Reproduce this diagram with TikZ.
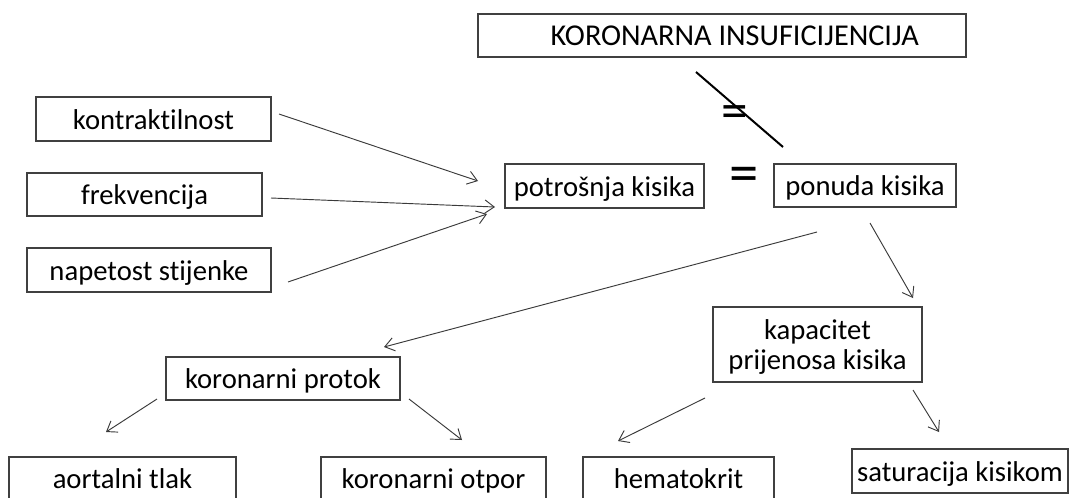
\documentclass[tikz,border=0pt]{standalone}
\usepackage{fontspec}
\setmainfont{Carlito}[Ligatures=NoCommon]
\usetikzlibrary{arrows.meta}
\definecolor{boxline}{HTML}{404040}
\definecolor{arrline}{HTML}{3A3A3A}
\tikzset{
  box/.style={draw=boxline, line width=1.1pt, inner sep=0pt,
    font=\fontsize{21.5}{25}\selectfont, text=black, text height=17pt, text depth=2pt},
  twoline/.style={draw=boxline, line width=1.1pt, inner sep=0pt, align=center,
    font=\fontsize{21.5}{22.5}\selectfont, text=black},
  conn/.style={draw=arrline, line width=0.7pt, -{Straight Barb[length=7pt,width=10pt,line width=0.7pt]}},
  eqsign/.style={inner sep=0pt, font=\fontsize{44}{44}\selectfont}
}
\begin{document}
\begin{tikzpicture}[x=0.75pt,y=-0.75pt]
\clip (0,0) rectangle (1070,497);
\fill[white] (0,0) rectangle (1070,497);
% boxes
\node[box, font=\fontsize{22.7}{26}\selectfont, minimum width={488*0.75pt}, minimum height={43*0.75pt}] (top) at (722,35.5) {\hspace*{19pt}KORONARNA INSUFICIJENCIJA};
\node[box, minimum width={235*0.75pt}, minimum height={44*0.75pt}] (kontr) at (153.5,119) {kontraktilnost};
\node[box, minimum width={235*0.75pt}, minimum height={43*0.75pt}] (frek) at (144.5,194.5) {frekvencija};
\node[box, minimum width={244*0.75pt}, minimum height={44*0.75pt}] (nap) at (149,270) {napetost stijenke};
\node[box, minimum width={199*0.75pt}, minimum height={44*0.75pt}] (potr) at (604.5,186) {potrošnja kisika};
\node[box, minimum width={182*0.75pt}, minimum height={43*0.75pt}] (pon) at (865,185.5) {ponuda kisika};
\node[twoline, minimum width={209*0.75pt}, minimum height={75*0.75pt}, text depth=0pt] (kap) at (817.5,344.5) {kapacitet\\prijenosa kisika};
\node[box, minimum width={234*0.75pt}, minimum height={43*0.75pt}] (prot) at (283,378.5) {koronarni protok};
\node[box, minimum width={227*0.75pt}, minimum height={43*0.75pt}] (aort) at (122.5,478.5) {aortalni tlak};
\node[box, minimum width={225*0.75pt}, minimum height={43*0.75pt}] (otp) at (433.5,478.5) {koronarni otpor};
\node[box, minimum width={191*0.75pt}, minimum height={43*0.75pt}] (hem) at (678.5,478.5) {hematokrit};
\node[box, minimum width={216*0.75pt}, minimum height={44*0.75pt}] (sat) at (960,471) {saturacija kisikom};
% equals signs
\node[eqsign] (eqmain) at (744,180) {=};
\node[eqsign, font=\fontsize{40}{40}\selectfont] (eqnot) at (735,117) {=};
% connector end points
\coordinate (a1s) at (279,114); \coordinate (a1e) at (478,181);
\coordinate (a2s) at (271,198); \coordinate (a2e) at (495,207);
\coordinate (a3s) at (288,282); \coordinate (a3e) at (487,214);
\coordinate (a4s) at (817,232); \coordinate (a4e) at (384,347);
\coordinate (a5s) at (870,223); \coordinate (a5e) at (913,298);
\coordinate (a6s) at (157,399); \coordinate (a6e) at (106,432);
\coordinate (a7s) at (409,399); \coordinate (a7e) at (462,440);
\coordinate (a8s) at (705,398); \coordinate (a8e) at (618,441);
\coordinate (a9s) at (913,390); \coordinate (a9e) at (939,432);
\coordinate (sls) at (696,72); \coordinate (sle) at (783,147);
% connectors
\draw[conn] (a1s) -- (a1e);
\draw[conn] (a2s) -- (a2e);
\draw[conn] (a3s) -- (a3e);
\draw[conn] (a4s) -- (a4e);
\draw[conn] (a5s) -- (a5e);
\draw[conn] (a6s) -- (a6e);
\draw[conn] (a7s) -- (a7e);
\draw[conn] (a8s) -- (a8e);
\draw[conn] (a9s) -- (a9e);
\draw[black, line width=1.5pt] (sls) -- (sle);
\end{tikzpicture}
\end{document}
